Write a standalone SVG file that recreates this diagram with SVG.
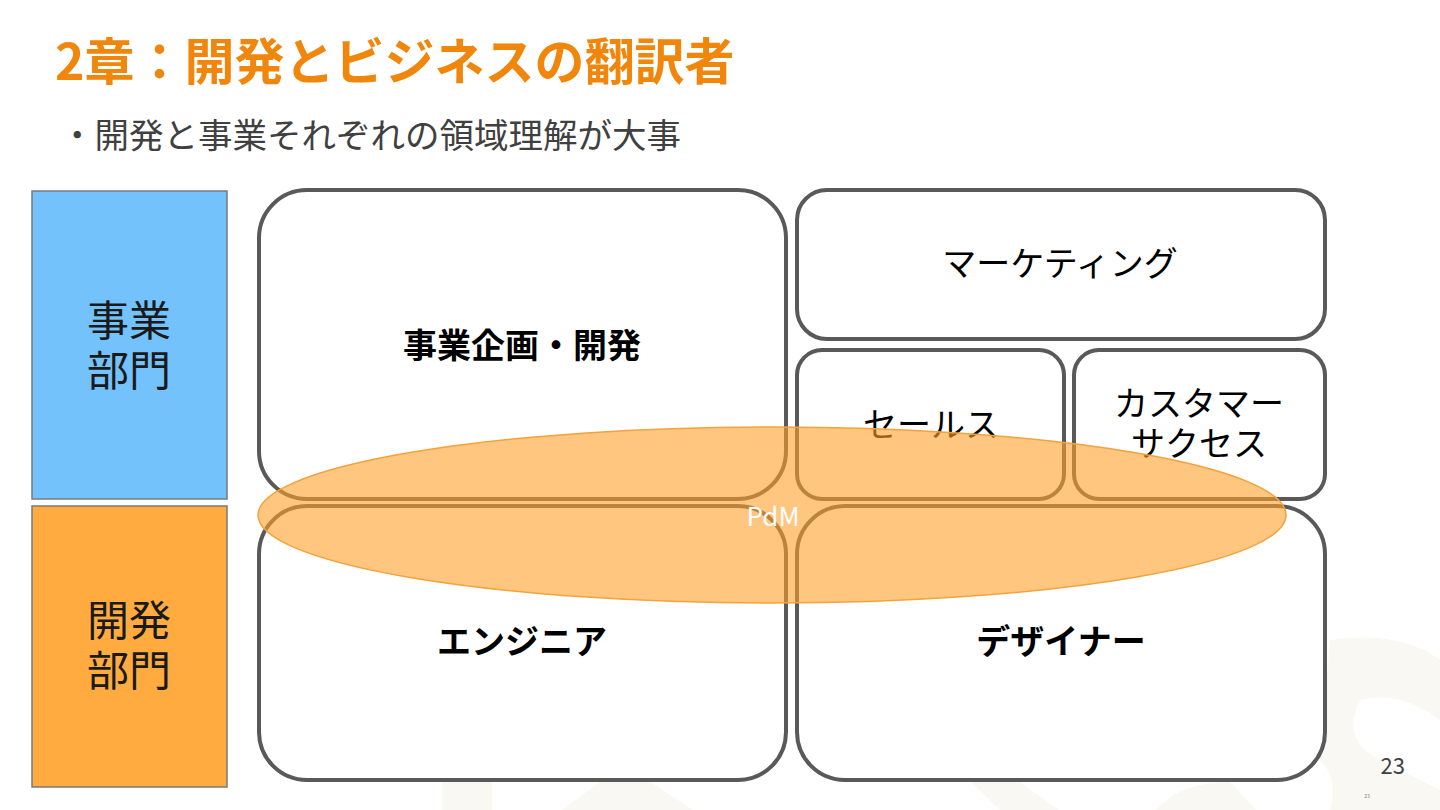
<svg xmlns="http://www.w3.org/2000/svg" width="1440" height="810" viewBox="0 0 1440 810">
<style>
.jp{font-family:"Noto Sans CJK JP","Noto Sans",sans-serif;}
.box{fill:#ffffff;stroke:#595959;stroke-width:4;}
.lbl{font-family:"Noto Sans CJK JP","Noto Sans",sans-serif;font-size:34px;fill:#000000;text-anchor:middle;}
.dept{font-family:"Noto Sans CJK JP","Noto Sans",sans-serif;font-size:42px;fill:#1a1a1a;text-anchor:middle;}
.wm{fill:#faf8f3;}
</style>
<rect x="0" y="0" width="1440" height="810" fill="#ffffff"/>
<g id="watermark">
<rect class="wm" x="442" y="782" width="50" height="28"/>
<polygon class="wm" points="600,782 650,782 693,810 562,810"/>
<polygon class="wm" points="971,782 1020,782 1059,810 1000,810"/>
<path class="wm" d="M1156,810 Q1180,782 1230,782 L1256,810 Z"/>
<path class="wm" d="M1330,640 Q1400,630 1440,660 L1440,720 Q1400,690 1360,700 Q1340,740 1380,760 L1440,790 L1440,810 L1330,810 Q1340,780 1320,760 Z"/>
</g>
<g id="title">
<text class="jp" x="55" y="80" font-size="50" font-weight="bold" fill="#f0870c">2章：開発とビジネスの翻訳者</text>
<text class="jp" x="60" y="148" font-size="34.5" fill="#404040">・開発と事業それぞれの領域理解が大事</text>
</g>
<g id="dept-business">
<rect x="32" y="191" width="195" height="308" fill="#73c2fc" stroke="#7a7a7a" stroke-width="1.5"/>
<text class="dept"><tspan x="129" y="336">事業</tspan><tspan x="129" y="386">部門</tspan></text>
</g>
<g id="dept-dev">
<rect x="32" y="506" width="195" height="281" fill="#ffab40" stroke="#7a7a7a" stroke-width="1.5"/>
<text class="dept"><tspan x="129" y="636">開発</tspan><tspan x="129" y="686">部門</tspan></text>
</g>
<g id="node-planning">
<rect class="box" x="259" y="190" width="527" height="309" rx="48" ry="48"/>
<text class="lbl" x="522" y="358" font-weight="bold">事業企画・開発</text>
</g>
<g id="node-marketing">
<rect class="box" x="797" y="190" width="528" height="149" rx="30" ry="30"/>
<text class="lbl" x="1060" y="276">マーケティング</text>
</g>
<g id="node-sales">
<rect class="box" x="797" y="350" width="267" height="149" rx="25" ry="25"/>
<text class="lbl" x="931" y="437">セールス</text>
</g>
<g id="node-cs">
<rect class="box" x="1074" y="350" width="251" height="149" rx="25" ry="25"/>
<text class="lbl"><tspan x="1199" y="416">カスタマー</tspan><tspan x="1199" y="456">サクセス</tspan></text>
</g>
<g id="node-engineer">
<rect class="box" x="259" y="506" width="527" height="274" rx="48" ry="48"/>
<text class="lbl" x="522" y="654" font-weight="bold">エンジニア</text>
</g>
<g id="node-designer">
<rect class="box" x="797" y="506" width="528" height="274" rx="48" ry="48"/>
<text class="lbl" x="1061" y="654" font-weight="bold">デザイナー</text>
</g>
<g id="connectors"></g>
<g id="node-pdm">
<ellipse cx="772" cy="515" rx="514" ry="88" fill="#ffa02a" fill-opacity="0.6" stroke="#f4a23c" stroke-width="1.5"/>
<text class="jp" x="773" y="526" font-size="26" fill="#ffffff" text-anchor="middle">PdM</text>
</g>
<g id="page">
<text class="jp" x="1405" y="774" font-size="22" fill="#404040" text-anchor="end">23</text>
<text class="jp" x="1367" y="798" font-size="5" fill="#808080" text-anchor="middle">23</text>
</g>
</svg>
